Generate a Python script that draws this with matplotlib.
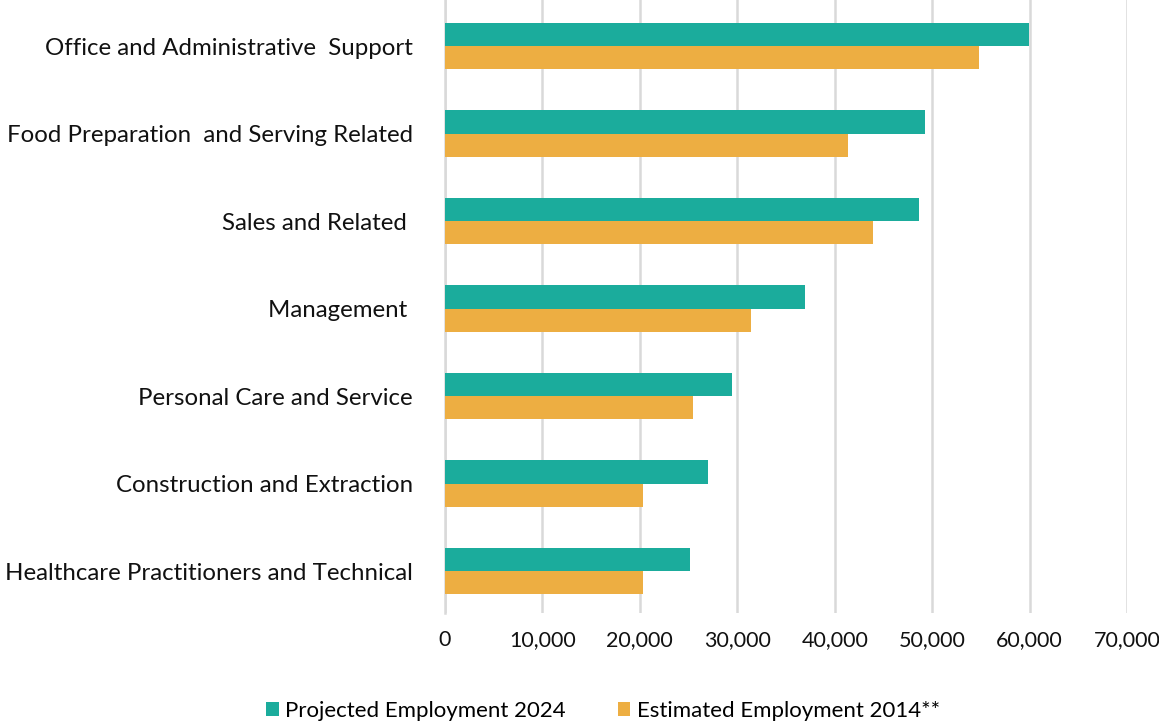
import matplotlib
matplotlib.use("Agg")
import matplotlib.pyplot as plt
import numpy as np

categories = [
    "Office and Administrative  Support",
    "Food Preparation  and Serving Related",
    "Sales and Related ",
    "Management ",
    "Personal Care and Service",
    "Construction and Extraction",
    "Healthcare Practitioners and Technical",
]
projected_2024 = [59900, 49250, 48650, 36950, 29450, 26950, 25100]
estimated_2014 = [54800, 41400, 43900, 31450, 25500, 20350, 20350]
xticks = [0, 10000, 20000, 30000, 40000, 50000, 60000, 70000]
series_names = ["Projected Employment 2024", "Estimated Employment 2014**"]

plt.rcParams['font.family'] = ['Lato', 'DejaVu Sans']

W, H = 1159, 725
fig = plt.figure(figsize=(W/100, H/100), dpi=100)
left_px, right_px, top_px, bottom_px = 445, 1127, 0, 613
ax = fig.add_axes([left_px/W, 1-bottom_px/H, (right_px-left_px)/W, (bottom_px-top_px)/H])

y = np.arange(len(categories))
h = 0.263
teal = "#1bac9c"
orange = "#edae42"
ax.barh(y - h/2, projected_2024, height=h, color=teal, label=series_names[0], zorder=3)
ax.barh(y + h/2, estimated_2014, height=h, color=orange, label=series_names[1], zorder=3)

ax.set_xlim(0, 70000)
ax.set_ylim(6 + 42/87.5, -46/87.5)
ax.set_xticks(xticks)
ax.set_xticklabels([f"{v:,}" for v in xticks])
ax.set_yticks(y)
ax.set_yticklabels(categories)
ax.tick_params(axis='x', length=0, pad=12, labelsize=15.5, colors='#111111')
ax.tick_params(axis='y', length=0, pad=23, labelsize=17.3, colors='#111111')
ax.grid(axis='x', color='#d9d9d9', linewidth=1.8, zorder=0)
for s in ['top', 'right', 'bottom']:
    ax.spines[s].set_visible(False)
ax.spines['left'].set_color('#d9d9d9')
ax.spines['left'].set_linewidth(1.8)

fig.legend(loc='center left', bbox_to_anchor=(266/W, 1-711/H), ncol=2, frameon=False,
           fontsize=16, handlelength=0.57, handleheight=0.57, handletextpad=0.28,
           columnspacing=2.35, borderpad=0, borderaxespad=0)

fig.savefig("out.png", dpi=100)
